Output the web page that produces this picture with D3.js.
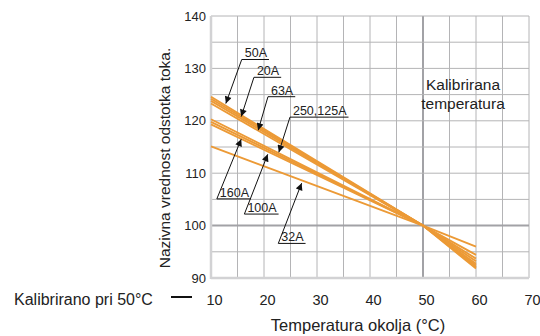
<!DOCTYPE html>
<html>
<head>
<meta charset="utf-8">
<style>
    body { margin: 0; background: #fff; }
    svg { font-family: "Liberation Sans", Arial, Helvetica, sans-serif; }
    .grid line { stroke: #b4b4b6; stroke-width: 1; }
    .grid .major { stroke: #a2a2a6; stroke-width: 2; }
    .tick-label { font-size: 14.5px; fill: #222; }
    .y-tick-label { font-size: 13px; fill: #222; }
    .tag { font-size: 12.5px; fill: #222; }
    .title { font-size: 15.5px; fill: #222; }
</style>
</head>
<body>
<svg width="540" height="336"></svg>

<script src="https://d3js.org/d3.v7.min.js"></script>
<script>
    // temperatures where each curve is read
    const temps = [10, 50, 60];

    const curveNames = ["50A", "20A", "63A", "250A", "125A", "160A", "100A", "32A"];
    // rated current percentage at 10, 50 and 60 °C
    const curveValues = [
        [124.6, 100, 91.8],
        [124.2, 100, 92.1],
        [123.8, 100, 92.4],
        [123.3, 100, 92.7],
        [120.3, 100, 93.2],
        [119.8, 100, 93.7],
        [119.3, 100, 94.4],
        [115.1, 100, 96.0]
    ];

    const xTicks = [10, 20, 30, 40, 50, 60, 70];
    const yTicks = [90, 100, 110, 120, 130, 140];

    // callouts: label, underline start (temp, value), arrow tip (temp, value)
    const tagText = ["50A", "20A", "63A", "250,125A", "160A", "100A", "32A"];
    const tagAt = [[15.8, 131.7], [18.1, 128.3], [20.75, 124.6], [24.9, 120.7], [11.1, 105.1], [16.3, 102.2], [22.7, 96.6]];
    const tagTip = [[12.8, 123.3], [15.7, 120.8], [18.9, 118.2], [22.8, 114.0], [15.7, 116.5], [20.7, 113.6], [27.1, 108.1]];

    let svg = d3.select("svg");

    let x = d3.scaleLinear().domain([10, 70]).range([211, 529]);
    let y = d3.scaleLinear().domain([90, 140]).range([278, 16]);

    // grid every 5 units
    let grid = svg.append("g").attr("class", "grid");
    grid.selectAll(".v")
        .data(d3.range(15, 71, 5))
        .join("line")
        .attr("class", d => d === 50 ? "major" : "v")
        .attr("x1", d => x(d)).attr("x2", d => x(d))
        .attr("y1", y(140)).attr("y2", y(90));
    grid.selectAll(".h")
        .data(d3.range(95, 141, 5))
        .join("line")
        .attr("class", d => d === 100 ? "major" : "h")
        .attr("x1", x(10)).attr("x2", x(70))
        .attr("y1", d => y(d)).attr("y2", d => y(d));

    // left and bottom frame
    svg.append("line")
        .attr("x1", x(10)).attr("x2", x(10))
        .attr("y1", y(140)).attr("y2", y(90) + 1)
        .style("stroke", "#d2d2d4").style("stroke-width", 2.5);
    svg.append("line")
        .attr("x1", x(10)).attr("x2", x(70))
        .attr("y1", y(90)).attr("y2", y(90))
        .style("stroke", "#d2d2d4").style("stroke-width", 2.5);

    // axes, labels only
    let xAxis = svg.append("g")
        .attr("transform", `translate(3,${y(90) + 17})`)
        .call(d3.axisBottom(x).tickValues(xTicks).tickSize(0).tickPadding(0))
        .call(g => g.select(".domain").remove());
    xAxis.selectAll("text").attr("class", "tick-label").attr("font-family", null).attr("font-size", null);

    let yAxis = svg.append("g")
        .attr("transform", `translate(${x(10) - 5},0)`)
        .call(d3.axisLeft(y).tickValues(yTicks).tickSize(0).tickPadding(0))
        .call(g => g.select(".domain").remove());
    yAxis.selectAll("text").attr("class", "y-tick-label").attr("font-family", null).attr("font-size", null);

    // curves
    let line = d3.line()
        .x((d, i) => x(temps[i]))
        .y(d => y(d));

    svg.append("g")
        .selectAll("path")
        .data(curveValues)
        .join("path")
        .attr("class", (d, i) => "curve c" + curveNames[i])
        .attr("d", line)
        .attr("fill", "none")
        .attr("stroke", "#ec9a36")
        .attr("stroke-width", 1.9);

    // arrow marker
    svg.append("defs").append("marker")
        .attr("id", "arrow")
        .attr("viewBox", "0 0 10 10")
        .attr("refX", 10).attr("refY", 5)
        .attr("markerWidth", 9).attr("markerHeight", 7)
        .attr("markerUnits", "userSpaceOnUse")
        .attr("orient", "auto")
        .append("path")
        .attr("d", "M0,0 L10,5 L0,10 Z")
        .attr("fill", "#111");

    let tags = svg.append("g")
        .selectAll("g")
        .data(tagText)
        .join("g");

    tags.append("text")
        .attr("class", "tag")
        .attr("x", (d, i) => x(tagAt[i][0]) + 3)
        .attr("y", (d, i) => y(tagAt[i][1]) - 2)
        .text(d => d);

    tags.each(function (d, i) {
        let g = d3.select(this);
        let w = g.select("text").node().getComputedTextLength();
        let x0 = x(tagAt[i][0]);
        let y0 = y(tagAt[i][1]);
        g.append("line")
            .attr("x1", x0).attr("x2", x0 + w + 5)
            .attr("y1", y0).attr("y2", y0)
            .attr("stroke", "#111").attr("stroke-width", 1);
        g.append("line")
            .attr("x1", x0).attr("y1", y0)
            .attr("x2", x(tagTip[i][0])).attr("y2", y(tagTip[i][1]))
            .attr("stroke", "#111").attr("stroke-width", 1)
            .attr("marker-end", "url(#arrow)");
    });

    // calibrated temperature note
    svg.append("text")
        .attr("class", "title")
        .attr("x", 463).attr("y", 90)
        .attr("text-anchor", "middle")
        .text("Kalibrirana");
    svg.append("text")
        .attr("class", "title")
        .attr("x", 463).attr("y", 109)
        .attr("text-anchor", "middle")
        .text("temperatura");

    // axis titles
    svg.append("text")
        .attr("class", "title")
        .attr("transform", "translate(170,158) rotate(-90)")
        .attr("text-anchor", "middle")
        .text("Nazivna vrednost odstotka toka.");

    svg.append("text")
        .attr("class", "title")
        .attr("x", 358).attr("y", 331)
        .attr("text-anchor", "middle")
        .style("font-size", "16.5px")
        .text("Temperatura okolja (°C)");

    svg.append("text")
        .attr("class", "title")
        .attr("x", 14).attr("y", 305)
        .style("font-size", "16px")
        .text("Kalibrirano pri 50°C");

    svg.append("line")
        .attr("x1", 171).attr("x2", 192)
        .attr("y1", 297).attr("y2", 297)
        .style("stroke", "#111").style("stroke-width", 2);
</script>
</body>
</html>
